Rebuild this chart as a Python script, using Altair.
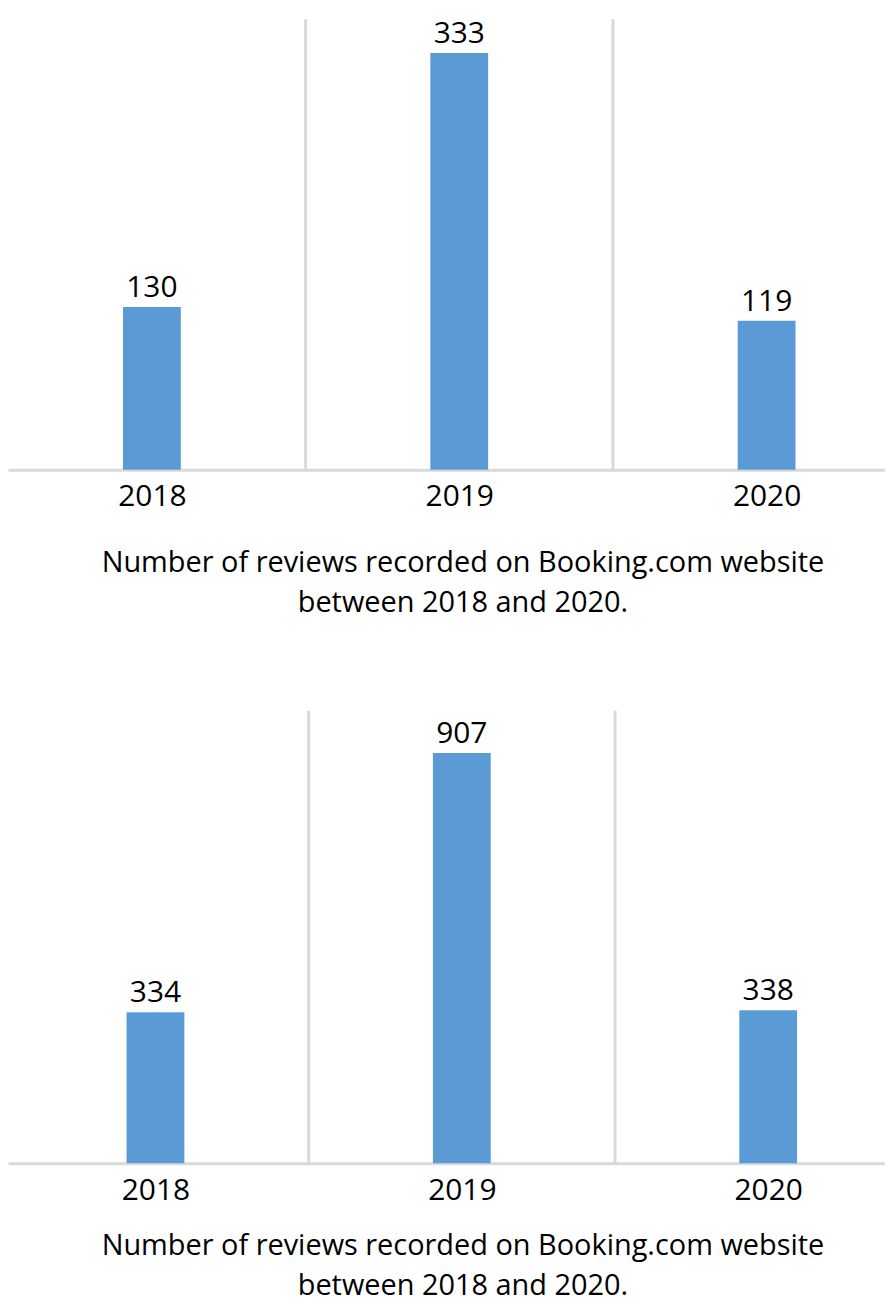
import altair as alt
import pandas as pd

years = [2018, 2019, 2020]
reviews_top = [130, 333, 119]
reviews_bottom = [334, 907, 338]
caption = ["Number of reviews recorded on Booking.com website",
           "between 2018 and 2020."]

boundaries = [(a + b) / 2 for a, b in zip(years[:-1], years[1:])]

FONT = "Open Sans"
BLUE = "#5B9BD5"
GRID = "#D9D9D9"


def panel(values, xdom, ymax, h, line_h, tpad):
    df = pd.DataFrame({"year": years, "reviews": values})
    bdf = pd.DataFrame({"year": boundaries})
    x = alt.X(
        "year:Q",
        scale=alt.Scale(domain=xdom, nice=False, zero=False),
        axis=alt.Axis(
            values=years, format="d", grid=False, ticks=False, tickSize=0,
            labelFont=FONT, labelFontSize=30, labelColor="black", labelPadding=12,
            domainColor=GRID, domainWidth=3,
            title=caption, titleFont=FONT, titleFontSize=29, titleFontWeight="normal",
            titleColor="black", titleLineHeight=line_h, titlePadding=tpad, titleX=456,
        ),
    )
    y = alt.Y("reviews:Q", scale=alt.Scale(domain=[0, ymax], nice=False), axis=None)
    rules = alt.Chart(bdf).mark_rule(color=GRID, strokeWidth=3).encode(x=x)
    bars = alt.Chart(df).mark_bar(size=58, color=BLUE).encode(x=x, y=y)
    labels = alt.Chart(df).mark_text(
        dy=-10, baseline="alphabetic", fontSize=30, font=FONT, color="black"
    ).encode(x=x, y=y, text="reviews:Q")
    return alt.layer(rules, bars, labels).properties(width=880, height=h)


top = panel(reviews_top, [2017.548, 2020.369], 360, 452, 40, 37)
bottom = panel(reviews_bottom, [2017.535, 2020.365], 1000, 454, 40, 27)

chart = (
    alt.vconcat(top, bottom, spacing=242, bounds="flush")
    .properties(padding={"left": 0, "top": 7, "right": 0, "bottom": 0})
    .configure_view(stroke=None)
)

chart.save("out.html", embed_options={"renderer": "svg", "actions": False})
